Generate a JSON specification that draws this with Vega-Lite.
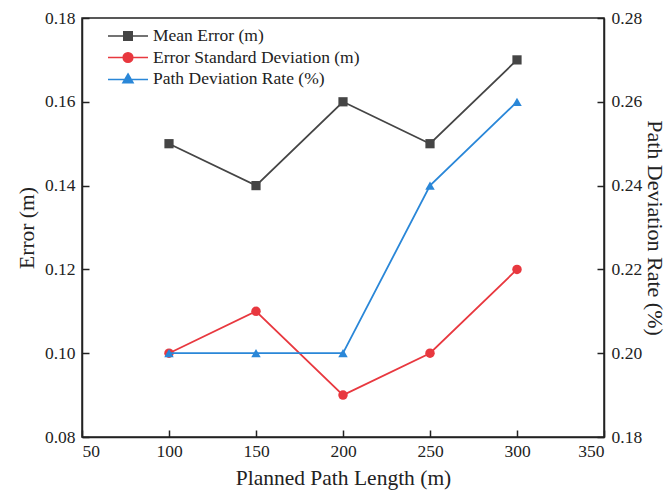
{
  "$schema": "https://vega.github.io/schema/vega-lite/v6.json",
  "autosize": {"type": "none"},
  "width": 522,
  "height": 419,
  "padding": {"left": 82, "top": 18, "right": 64, "bottom": 58},
  "background": "white",
  "config": {
    "font": "Liberation Serif",
    "view": {"stroke": "#222222", "strokeWidth": 1.5},
    "axis": {
      "labelFont": "Liberation Serif",
      "titleFont": "Liberation Serif",
      "labelFontSize": 17.5,
      "titleFontSize": 21.5,
      "titleFontWeight": "normal",
      "labelColor": "#222222",
      "titleColor": "#222222",
      "domainColor": "#222222",
      "domainWidth": 1.5,
      "tickColor": "#222222",
      "tickWidth": 1.5,
      "tickSize": -7,
      "labelPadding": 14,
      "grid": false
    },
    "legend": {"labelFont": "Liberation Serif"}
  },
  "data": {
    "values": [
      {"length": 100, "series": "Mean Error (m)", "value": 0.15},
      {"length": 150, "series": "Mean Error (m)", "value": 0.14},
      {"length": 200, "series": "Mean Error (m)", "value": 0.16},
      {"length": 250, "series": "Mean Error (m)", "value": 0.15},
      {"length": 300, "series": "Mean Error (m)", "value": 0.17},
      {"length": 100, "series": "Error Standard Deviation (m)", "value": 0.10},
      {"length": 150, "series": "Error Standard Deviation (m)", "value": 0.11},
      {"length": 200, "series": "Error Standard Deviation (m)", "value": 0.09},
      {"length": 250, "series": "Error Standard Deviation (m)", "value": 0.10},
      {"length": 300, "series": "Error Standard Deviation (m)", "value": 0.12},
      {"length": 100, "series": "Path Deviation Rate (%)", "value": 0.20},
      {"length": 150, "series": "Path Deviation Rate (%)", "value": 0.20},
      {"length": 200, "series": "Path Deviation Rate (%)", "value": 0.20},
      {"length": 250, "series": "Path Deviation Rate (%)", "value": 0.24},
      {"length": 300, "series": "Path Deviation Rate (%)", "value": 0.26}
    ]
  },
  "encoding": {
    "x": {
      "field": "length",
      "type": "quantitative",
      "scale": {"domain": [50, 350], "nice": false, "zero": false},
      "axis": {"values": [50, 100, 150, 200, 250, 300, 350], "title": "Planned Path Length (m)", "titlePadding": 8, "labelPadding": 12}
    },
    "color": {
      "field": "series",
      "type": "nominal",
      "scale": {
        "domain": ["Mean Error (m)", "Error Standard Deviation (m)", "Path Deviation Rate (%)"],
        "range": ["#454545", "#e8383f", "#2a87d8"]
      },
      "legend": {
        "title": null,
        "orient": "none",
        "legendX": 35,
        "legendY": 7,
        "padding": 0,
        "labelFontSize": 17.5,
        "labelColor": "#222222",
        "labelLimit": 500,
        "labelOffset": 14,
        "rowPadding": 1.5,
        "symbolSize": 400,
        "symbolStrokeWidth": 1.6,
        "encoding": {
          "symbols": {
            "shape": {"value": {"expr": "datum.value === 'Mean Error (m)' ? 'M-2,0H2M-0.42,-0.42H0.42V0.42H-0.42Z' : datum.value === 'Error Standard Deviation (m)' ? 'M-2,0H2M-0.48,0A0.48,0.48,0,1,0,0.48,0A0.48,0.48,0,1,0,-0.48,0Z' : 'M-2,0.05H2M0,-0.5L0.5,0.38L-0.5,0.38Z'"}},
            "fill": {"value": {"expr": "scale('color', datum.value)"}},
            "stroke": {"value": {"expr": "scale('color', datum.value)"}},
            "strokeWidth": {"value": 1.6},
            "opacity": {"value": 1},
            "fillOpacity": {"value": 1}
          }
        }
      }
    }
  },
  "layer": [
    {
      "transform": [{"filter": "datum.series !== 'Path Deviation Rate (%)'"}],
      "encoding": {
        "y": {
          "field": "value",
          "type": "quantitative",
          "scale": {"domain": [0.08, 0.18], "nice": false, "zero": false},
          "axis": {"orient": "left", "values": [0.08, 0.10, 0.12, 0.14, 0.16, 0.18], "format": ".2f", "title": "Error (m)", "titlePadding": 6}
        }
      },
      "layer": [
        {"mark": {"type": "line", "strokeWidth": 1.8}},
        {"transform": [{"filter": "datum.series === 'Mean Error (m)'"}], "mark": {"type": "point", "shape": "square", "filled": true, "size": 85, "opacity": 1}},
        {"transform": [{"filter": "datum.series === 'Error Standard Deviation (m)'"}], "mark": {"type": "point", "shape": "circle", "filled": true, "size": 90, "opacity": 1}}
      ]
    },
    {
      "transform": [{"filter": "datum.series === 'Path Deviation Rate (%)'"}],
      "encoding": {
        "y": {
          "field": "value",
          "type": "quantitative",
          "scale": {"domain": [0.18, 0.28], "nice": false, "zero": false},
          "axis": {"orient": "right", "values": [0.18, 0.20, 0.22, 0.24, 0.26, 0.28], "format": ".2f", "title": "Path Deviation Rate (%)", "titlePadding": 1, "titleFontSize": 22}
        }
      },
      "layer": [
        {"mark": {"type": "line", "strokeWidth": 1.8}},
        {"mark": {"type": "point", "shape": "triangle-up", "filled": true, "size": 90, "opacity": 1}}
      ]
    }
  ],
  "resolve": {"scale": {"y": "independent"}}
}
